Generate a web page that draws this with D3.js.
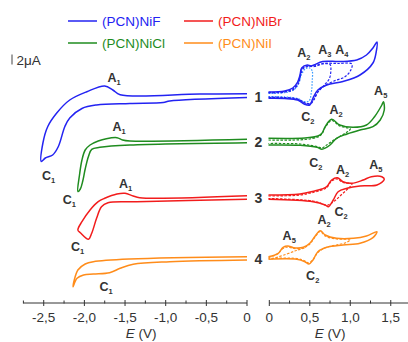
<!DOCTYPE html>
<html>
<head>
<meta charset="utf-8">
<script src="https://cdn.jsdelivr.net/npm/d3@7"></script>
<style>
body { margin: 0; background: #fff; }
svg { display: block; font-family: "Liberation Sans", Arial, sans-serif; }
</style>
</head>
<body>
<div class="chart"></div>
<script>
const w = 408;
const h = 342;

// baseline current (uA) of each trace, 1 = NiF ... 4 = NiI
const offsets = [41.2, 32.2, 21, 8.8];
const names = ["(PCN)NiF", "(PCN)NiCl", "(PCN)NiBr", "(PCN)NiI"];
const colors = ["#2323f2", "#1f8c1f", "#f21c1c", "#ff8c1a"];

// left panel, E (V) vs I (uA) relative to baseline
const niF_neg = [[0,0.46],[-0.58,0.4],[-1.56,0.26],[-1.65,1.2],[-1.75,2.0],[-1.97,0.86],[-2.18,-0.8],[-2.34,-3.4],[-2.45,-6.1],[-2.51,-9.4],[-2.53,-13.1],[-2.48,-12.4],[-2.39,-11.8],[-2.32,-10.1],[-2.24,-6.1],[-2.18,-4.4],[-2.03,-2.5],[-1.85,-1.8],[-1.44,-1.5],[-1.03,-1.3],[-0.95,-1.0],[0,-0.3]];
const niCl_neg = [[0,0.34],[-1.44,0],[-1.53,0.2],[-1.60,0.66],[-1.73,0.46],[-1.83,0],[-1.93,-0.8],[-1.99,-1.8],[-2.03,-3.8],[-2.06,-6.8],[-2.08,-10.1],[-2.05,-9.6],[-2.02,-8.0],[-1.99,-5.6],[-1.95,-3.1],[-1.91,-1.66],[-1.81,-1.26],[-1.44,-0.8],[0,-0.34]];
const niBr_neg = [[0,0.26],[-1.32,-0.14],[-1.40,0.2],[-1.50,0.74],[-1.60,0.6],[-1.75,-0.26],[-1.83,-0.94],[-1.93,-2.6],[-2.03,-4.94],[-2.08,-6.6],[-2.05,-7.14],[-1.95,-8.46],[-1.91,-7.26],[-1.85,-4.26],[-1.79,-1.94],[-1.71,-1.14],[-1.36,-0.94],[0,-0.46]];
const niI_neg = [[0,0.26],[-1.44,-0.2],[-1.89,-0.74],[-1.99,-1.2],[-2.08,-2.4],[-2.14,-5.74],[-2.09,-4.06],[-2.01,-3.4],[-1.89,-3.2],[-1.69,-2.94],[-1.56,-2.06],[-1.40,-1.26],[-0.95,-0.74],[0,-0.4]];

// right panel, full scans
const niF_pos = [[-0.01,0.8],[0.19,1.0],[0.29,1.6],[0.35,2.8],[0.38,4.2],[0.40,5.6],[0.47,6.2],[0.51,6.0],[0.55,6.2],[0.66,6.9],[0.87,6.9],[1.08,7.2],[1.20,8.2],[1.28,9.6],[1.33,10.8],[1.32,8.8],[1.28,6.6],[1.12,4.2],[0.91,2.9],[0.71,2.2],[0.60,1.2],[0.54,-0.4],[0.50,-1.8],[0.43,-1.6],[0.35,-0.8],[0.19,-0.5],[-0.01,-0.46]];
const niCl_pos = [[-0.01,0.54],[0.44,0.6],[0.60,1.0],[0.65,1.54],[0.69,2.86],[0.77,4.34],[0.87,3.2],[1.03,2.74],[1.20,3.2],[1.30,4.86],[1.39,7.2],[1.41,7.86],[1.42,6.2],[1.37,4.2],[1.28,2.86],[1.12,2.2],[0.96,1.4],[0.83,0.54],[0.75,-0.8],[0.65,-1.66],[0.59,-1.26],[0.38,-0.86],[-0.01,-0.8]];
const niBr_pos = [[-0.01,0.4],[0.38,0.6],[0.56,1.2],[0.65,1.6],[0.71,2.06],[0.77,3.4],[0.84,3.86],[0.91,3.06],[1.02,2.74],[1.16,3.4],[1.26,4.06],[1.39,4.06],[1.42,3.54],[1.33,2.4],[1.12,2.2],[0.96,1.74],[0.85,1.06],[0.79,-0.6],[0.73,-1.94],[0.69,-1.6],[0.54,-0.94],[-0.01,-0.46]];
const niI_pos = [[-0.01,0.26],[0.11,0.94],[0.17,2.14],[0.23,2.4],[0.30,2.06],[0.42,2.14],[0.50,2.94],[0.56,4.26],[0.63,5.46],[0.69,4.6],[0.83,3.94],[1.04,3.94],[1.20,4.4],[1.33,5.26],[1.28,4.06],[1.12,2.94],[0.91,2.6],[0.71,2.14],[0.60,1.26],[0.54,-0.4],[0.49,-1.2],[0.44,-0.74],[0.34,-0.26],[-0.01,-0.26]];

// right panel, scans reversed early (dashed)
const niF_A4 = [[-0.01,0.7],[0.19,0.9],[0.29,1.4],[0.35,2.6],[0.38,4.0],[0.40,5.4],[0.47,6.0],[0.55,6.0],[0.66,6.5],[0.85,6.5],[1.02,6.4],[1.0,5.0],[0.93,3.8],[0.8,3.0],[0.68,2.0],[0.6,0.8],[0.55,-0.6],[0.51,-1.6],[0.44,-1.4],[0.36,-0.7],[0.19,-0.4],[-0.01,-0.3]];
const niF_A3 = [[-0.01,0.6],[0.2,0.8],[0.3,1.3],[0.36,2.5],[0.39,4.3],[0.42,5.5],[0.48,5.9],[0.56,5.9],[0.66,6.4],[0.75,6.3],[0.76,5.0],[0.74,3.4],[0.68,2.2],[0.6,0.8],[0.55,-0.8],[0.5,-1.5],[0.43,-1.3],[0.35,-0.6],[0.2,-0.3],[-0.01,-0.2]];
const niF_A2 = [[-0.01,0.5],[0.2,0.7],[0.3,1.2],[0.36,2.4],[0.4,4.4],[0.45,5.5],[0.5,5.6],[0.53,5.0],[0.53,3.0],[0.52,0.8],[0.49,-1.0],[0.43,-1.1],[0.35,-0.5],[0.2,-0.2],[-0.01,-0.1]];
const niCl_A2 = [[-0.01,0.2],[0.44,0.3],[0.6,0.8],[0.65,1.4],[0.69,2.7],[0.77,4.1],[0.87,3.0],[0.97,2.6],[1.0,2.4],[0.97,1.9],[0.88,1.0],[0.78,0.0],[0.7,-0.9],[0.65,-1.4],[0.59,-1.1],[0.38,-0.6],[-0.01,-0.5]];
const niBr_A2 = [[-0.01,0.2],[0.38,0.4],[0.56,1.0],[0.65,1.4],[0.71,1.9],[0.77,3.2],[0.84,3.6],[0.91,2.9],[1.02,2.6],[0.98,1.8],[0.9,0.6],[0.82,-0.6],[0.76,-1.3],[0.71,-1.7],[0.66,-1.4],[0.54,-0.8],[-0.01,-0.3]];
const niI_A2 = [[-0.01,0.1],[0.1,0.8],[0.17,1.9],[0.23,2.2],[0.30,1.9],[0.42,2.0],[0.5,2.8],[0.56,4.1],[0.63,5.3],[0.69,4.4],[0.83,3.8],[1.0,3.7],[0.95,3.1],[0.83,2.6],[0.7,2.1],[0.6,1.1],[0.54,-0.3],[0.49,-1.0],[0.44,-0.6],[0.34,-0.1],[-0.01,-0.1]];
const niI_A5 = [[0.03,-0.2],[0.2,0.7],[0.35,1.6],[0.45,2.1]];

// peak labels: panel, E, I (absolute uA), letter, index
const peaks = [
  ["L",-1.66,44.1,"A","1"],["L",-2.465,24.5,"C","1"],
  ["L",-1.60,34.3,"A","1"],["L",-2.21,19.7,"C","1"],
  ["L",-1.52,22.9,"A","1"],["L",-2.11,10.3,"C","1"],
  ["L",-1.76,2.3,"C","1"],
  ["R",0.40,49.1,"A","2"],["R",0.66,49.6,"A","3"],["R",0.87,49.6,"A","4"],["R",0.45,36.3,"C","2"],
  ["R",0.80,37.7,"A","2"],["R",1.35,41.4,"A","5"],["R",0.55,27.1,"C","2"],
  ["R",0.88,25.7,"A","2"],["R",1.29,26.7,"A","5"],["R",0.86,17.2,"C","2"],
  ["R",0.65,15.7,"A","2"],["R",0.22,12.4,"A","5"],["R",0.51,4.4,"C","2"]
];

const leftTicks = [-2.5, -2.0, -1.5, -1.0, -0.5, 0];
const leftMinor = [-2.75, -2.25, -1.75, -1.25, -0.75, -0.25];
const rightTicks = [0, 0.5, 1.0, 1.5];
const rightMinor = [0.25, 0.75, 1.25];

const svg = d3.select(".chart")
.append("svg")
.attr("width", w)
.attr("height", h);

const xL = d3.scaleLinear().domain([-2.75, 0]).range([23.4, 247]);
const xR = d3.scaleLinear().domain([0, 1.75]).range([269.3, 411]);
const y = d3.scaleLinear().domain([0, 52]).range([302, 42]);

const traces = [
  {d: niF_neg, k: 0, x: xL}, {d: niCl_neg, k: 1, x: xL}, {d: niBr_neg, k: 2, x: xL}, {d: niI_neg, k: 3, x: xL},
  {d: niF_A2, k: 0, x: xR, dash: "1.6,1.4", col: "#3a9cff"},
  {d: niF_A3, k: 0, x: xR, dash: "2.5,1.5"}, {d: niF_A4, k: 0, x: xR, dash: "2.5,1.5"},
  {d: niCl_A2, k: 1, x: xR, dash: "2.5,1.5"}, {d: niBr_A2, k: 2, x: xR, dash: "2.5,1.5"},
  {d: niI_A2, k: 3, x: xR, dash: "2.5,1.5"}, {d: niI_A5, k: 3, x: xR, dash: "2.5,1.5"},
  {d: niF_pos, k: 0, x: xR}, {d: niCl_pos, k: 1, x: xR}, {d: niBr_pos, k: 2, x: xR}, {d: niI_pos, k: 3, x: xR}
];

svg.append("g")
  .selectAll("path")
  .data(traces)
  .enter().append("path")
  .attr("fill", "none")
  .attr("stroke", t => t.col || colors[t.k])
  .attr("stroke-width", t => t.dash ? 1.2 : 1.5)
  .attr("stroke-dasharray", t => t.dash || null)
  .attr("stroke-linejoin", "round")
  .attr("d", t => d3.line()
    .x(p => t.x(p[0]))
    .y(p => y(p[1] + offsets[t.k]))
    .curve(d3.curveCatmullRom.alpha(0.5))(t.d));

// axes
const fmt = v => v === 0 ? "0" : d3.format(".1f")(v).replace(".", ",").replace("−", "-");

function drawAxis(x, major, minor, e0, e1) {
  const g = svg.append("g").attr("transform", "translate(0,303)");
  g.append("line")
    .attr("x1", x(e0)).attr("x2", x(e1))
    .attr("stroke", "#333");
  g.selectAll(".maj").data(major).enter().append("line")
    .attr("x1", d => x(d)).attr("x2", d => x(d))
    .attr("y1", -3).attr("y2", 3)
    .attr("stroke", "#333");
  g.selectAll(".min").data(minor).enter().append("line")
    .attr("x1", d => x(d)).attr("x2", d => x(d))
    .attr("y1", -2.5).attr("y2", 0.5)
    .attr("stroke", "#333");
  g.selectAll("text").data(major).enter().append("text")
    .attr("x", d => x(d))
    .attr("y", 19)
    .attr("text-anchor", "middle")
    .attr("font-size", 13.5)
    .attr("fill", "#333")
    .text(fmt);
  const lab = g.append("text")
    .attr("x", (x(e0) + x(Math.min(e1, 1.5))) / 2 + (e1 > 1 ? 0 : 6))
    .attr("y", 35)
    .attr("text-anchor", "middle")
    .attr("font-size", 13.5)
    .attr("fill", "#333");
  lab.append("tspan").attr("font-style", "italic").text("E");
  lab.append("tspan").text(" (V)");
}
drawAxis(xL, leftTicks, leftMinor, -2.75, 0);
drawAxis(xR, rightTicks, rightMinor, 0, 1.75);

// peak labels
const pl = svg.append("g")
  .selectAll("text")
  .data(peaks)
  .enter().append("text")
  .attr("x", d => (d[0] === "L" ? xL : xR)(d[1]) - 4.5)
  .attr("y", d => y(d[2]))
  .attr("font-size", 12.5)
  .attr("font-weight", "bold")
  .attr("fill", "#333");
pl.append("tspan").text(d => d[3]);
pl.append("tspan").attr("font-size", 7.5).attr("dy", 3).text(d => d[4]);

// trace numbers
svg.append("g")
  .selectAll("text")
  .data(offsets)
  .enter().append("text")
  .attr("x", 258.5)
  .attr("y", d => y(d) + 6)
  .attr("text-anchor", "middle")
  .attr("font-size", 14)
  .attr("font-weight", "bold")
  .attr("fill", "#333")
  .text((d, i) => i + 1);

// scale bar 2 uA
svg.append("line")
  .attr("x1", 12).attr("x2", 12)
  .attr("y1", y(49.5)).attr("y2", y(47.5))
  .attr("stroke", "#444")
  .attr("stroke-width", 1);
svg.append("text")
  .attr("x", 16.5)
  .attr("y", y(47.5))
  .attr("font-size", 13.5)
  .attr("fill", "#333")
  .text("2\u03bcA");

// legend
const leg = svg.append("g")
  .selectAll("g")
  .data(names)
  .enter().append("g")
  .attr("transform", (d, i) => `translate(${i < 2 ? 68 : 184},${i % 2 ? 43 : 21})`);
leg.append("line")
  .attr("x1", 0).attr("x2", 29)
  .attr("stroke", (d, i) => colors[i])
  .attr("stroke-width", 1.5);
leg.append("text")
  .attr("x", 34)
  .attr("y", 5)
  .attr("font-size", 13.5)
  .attr("fill", (d, i) => colors[i])
  .text(d => d);
</script>
</body>
</html>
